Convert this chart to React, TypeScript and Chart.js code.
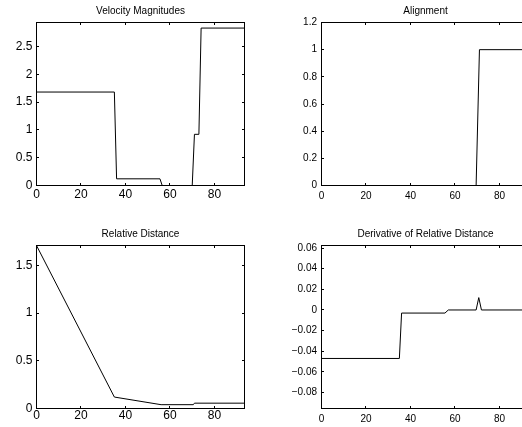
import React, { useEffect, useRef } from 'react';
import { Chart, registerables } from 'chart.js';

Chart.register(...registerables);

// ---- data ----
const xTicks = [0, 20, 40, 60, 80];
const xMax = 93.5;

const velX = [0, 35, 36, 55.5, 56.5, 70, 71, 73, 74, 93.5];
const velY = [1.68, 1.68, 0.12, 0.12, 0, 0, 0.92, 0.92, 2.83, 2.83];
const velTicks = [0, 0.5, 1, 1.5, 2, 2.5];

const alignX = [0, 69.5, 71, 93.5];
const alignY = [0, 0, 1, 1];
const alignTicks = [0, 0.2, 0.4, 0.6, 0.8, 1, 1.2];

const distX = [0, 35, 56, 70.5, 71, 93.5];
const distY = [1.71, 0.12, 0.04, 0.04, 0.056, 0.056];
const distTicks = [0, 0.5, 1, 1.5];

const derX = [0, 35, 36, 55.5, 57, 69.5, 70.7, 71.9, 93.5];
const derY = [-0.047, -0.047, -0.003, -0.003, 0, 0, 0.012, 0, 0];
const derTicks = [-0.08, -0.06, -0.04, -0.02, 0, 0.02, 0.04, 0.06];

const FONT = '"Liberation Sans", Arial, Helvetica, sans-serif';

const fmt = (v: number) => String(Math.round(v * 10000) / 10000).replace('-', '\u2212');

type Panel = {
  title: string;
  xs: number[];
  ys: number[];
  yMin: number;
  yMax: number;
  yTicks: number[];
  left: number;
  top: number;
  width: number;
  height: number;
  areaLeft: number;
  areaRight: number;
  areaTop: number;
  areaBottom: number;
  titlePadTop: number;
  tickSize: number;
  xPad: number;
  yPad: number;
};

const boxPlugin = {
  id: 'matlabBox',
  afterDatasetsDraw(chart: any) {
    const { ctx, chartArea: a, scales } = chart;
    ctx.save();
    ctx.strokeStyle = '#000';
    ctx.lineWidth = 1;
    ctx.strokeRect(a.left, a.top, a.right - a.left, a.bottom - a.top);
    const tl = 2.5;
    ctx.beginPath();
    scales.x.ticks.forEach((t: any) => {
      const px = Math.floor(scales.x.getPixelForValue(t.value)) + 0.5;
      ctx.moveTo(px, a.bottom);
      ctx.lineTo(px, a.bottom - tl);
      ctx.moveTo(px, a.top);
      ctx.lineTo(px, a.top + tl);
    });
    scales.y.ticks.forEach((t: any) => {
      const py = Math.floor(scales.y.getPixelForValue(t.value)) + 0.5;
      ctx.moveTo(a.left, py);
      ctx.lineTo(a.left + tl, py);
      ctx.moveTo(a.right, py);
      ctx.lineTo(a.right - tl, py);
    });
    ctx.stroke();
    ctx.restore();
  },
};

function PanelChart({ p }: { p: Panel }) {
  const ref = useRef<HTMLCanvasElement | null>(null);
  useEffect(() => {
    if (!ref.current) return;
    const chart = new Chart(ref.current, {
      type: 'line',
      data: {
        datasets: [
          {
            data: p.xs.map((x, i) => ({ x, y: p.ys[i] })),
            borderColor: '#000',
            borderWidth: 1,
            pointRadius: 0,
            tension: 0,
            fill: false,
          },
        ],
      },
      options: {
        responsive: false,
        animation: false,
        devicePixelRatio: 1,
        events: [],
        layout: { padding: { left: 0, top: 0, bottom: 0, right: p.width - p.areaRight } },
        plugins: {
          legend: { display: false },
          tooltip: { enabled: false },
          title: {
            display: true,
            text: p.title,
            fullSize: false,
            color: '#000',
            font: { family: FONT, size: 10, weight: 'normal', lineHeight: 1.2 },
            padding: { top: p.titlePadTop, bottom: p.areaTop - p.titlePadTop - 12 },
          },
        },
        scales: {
          x: {
            type: 'linear',
            min: 0,
            max: xMax,
            grid: { display: false, drawTicks: false },
            border: { display: false },
            ticks: {
              color: '#000',
              font: { family: FONT, size: p.tickSize, lineHeight: 1 },
              padding: p.xPad,
              maxRotation: 0,
              autoSkip: false,
              callback: (v: any) => fmt(Number(v)),
            },
            afterBuildTicks: (s: any) => {
              s.ticks = xTicks.map((v) => ({ value: v }));
            },
            afterFit: (s: any) => {
              s.height = p.height - p.areaBottom;
            },
          },
          y: {
            type: 'linear',
            min: p.yMin,
            max: p.yMax,
            grid: { display: false, drawTicks: false },
            border: { display: false },
            ticks: {
              color: '#000',
              font: { family: FONT, size: p.tickSize, lineHeight: 1 },
              padding: p.yPad,
              autoSkip: false,
              callback: (v: any) => fmt(Number(v)),
            },
            afterBuildTicks: (s: any) => {
              s.ticks = p.yTicks.map((v) => ({ value: v }));
            },
            afterFit: (s: any) => {
              s.width = p.areaLeft;
            },
          },
        },
      },
      plugins: [boxPlugin],
    } as any);
    return () => chart.destroy();
  }, [p]);
  return (
    <canvas
      ref={ref}
      width={p.width}
      height={p.height}
      style={{ position: 'absolute', left: p.left, top: p.top, width: p.width, height: p.height }}
    />
  );
}

const panels: Panel[] = [
  {
    title: 'Velocity Magnitudes', xs: velX, ys: velY, yMin: 0, yMax: 2.93, yTicks: velTicks,
    left: 0, top: 0, width: 261, height: 213,
    areaLeft: 36.5, areaRight: 244.5, areaTop: 22.5, areaBottom: 185.5,
    titlePadTop: 5, tickSize: 12, xPad: 3, yPad: 4,
  },
  {
    title: 'Alignment', xs: alignX, ys: alignY, yMin: 0, yMax: 1.2, yTicks: alignTicks,
    left: 261, top: 0, width: 290, height: 213,
    areaLeft: 60.5, areaRight: 268.5, areaTop: 22.5, areaBottom: 185.5,
    titlePadTop: 5, tickSize: 10, xPad: 6, yPad: 4.5,
  },
  {
    title: 'Relative Distance', xs: distX, ys: distY, yMin: 0, yMax: 1.71, yTicks: distTicks,
    left: 0, top: 213, width: 261, height: 214,
    areaLeft: 36.5, areaRight: 244.5, areaTop: 32.5, areaBottom: 195.5,
    titlePadTop: 15, tickSize: 12, xPad: 1, yPad: 4,
  },
  {
    title: 'Derivative of Relative Distance', xs: derX, ys: derY, yMin: -0.0955, yMax: 0.0625, yTicks: derTicks,
    left: 261, top: 213, width: 290, height: 214,
    areaLeft: 60.5, areaRight: 268.5, areaTop: 32.5, areaBottom: 195.5,
    titlePadTop: 15, tickSize: 10, xPad: 6, yPad: 4.5,
  },
];

export default function App() {
  return (
    <div
      style={{
        position: 'fixed',
        left: 0,
        top: 0,
        width: 522,
        height: 427,
        overflow: 'hidden',
        background: '#fff',
      }}
    >
      {panels.map((p) => (
        <PanelChart key={p.title} p={p} />
      ))}
    </div>
  );
}
